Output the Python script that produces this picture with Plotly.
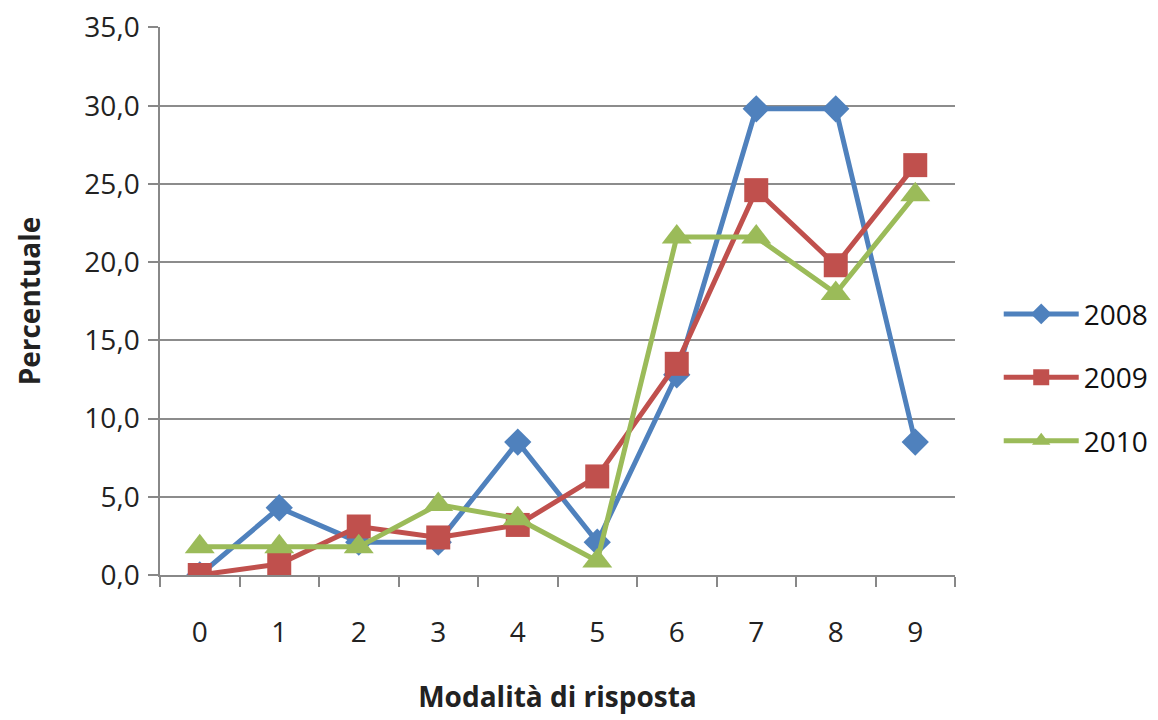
import plotly.graph_objects as go

categories = [0, 1, 2, 3, 4, 5, 6, 7, 8, 9]
tick_labels = ["0", "1", "2", "3", "4", "5", "6", "7", "8", "9"]
y_ticks = [0, 5, 10, 15, 20, 25, 30, 35]
s2008 = [0.0, 4.3, 2.1, 2.1, 8.5, 2.1, 12.8, 29.8, 29.8, 8.5]
s2009 = [0.0, 0.7, 3.1, 2.4, 3.2, 6.3, 13.5, 24.6, 19.8, 26.2]
s2010 = [1.8, 1.8, 1.8, 4.5, 3.6, 0.9, 21.6, 21.6, 18.0, 24.3]

series = [
    ("2008", s2008, "#4F81BD", "diamond", 21),
    ("2009", s2009, "#C0504D", "square", 24),
    ("2010", s2010, "#9BBB59", "triangle-up", 26),
]

fig = go.Figure()
for name, vals, color, sym, size in series:
    fig.add_trace(go.Scatter(
        x=categories, y=vals, name=name, mode="lines+markers",
        line=dict(color=color, width=5),
        marker=dict(symbol=sym, size=size, color=color),
        legendgroup=name,
    ))

font_family = "Open Sans, Noto Sans, sans-serif"
boundaries = [c - 0.5 for c in categories] + [categories[-1] + 0.5]

fig.update_layout(
    width=1158, height=720,
    margin=dict(l=152, r=211, t=19, b=153, autoexpand=False),
    plot_bgcolor="white", paper_bgcolor="white",
    separators=",.",
    font=dict(family=font_family, size=28, color="#222222"),
    showlegend=True,
    legend=dict(x=1.055, y=0.36, xanchor="left", yanchor="middle",
                font=dict(size=28, color="#111111"), tracegroupgap=24,
                itemwidth=75, bgcolor="rgba(0,0,0,0)"),
)
fig.update_xaxes(
    range=[-0.5, 9.5], tickmode="array", tickvals=categories, ticktext=tick_labels,
    ticks="", showgrid=False, showline=True, linecolor="#888888", linewidth=1.5,
    zeroline=False, ticklabelstandoff=32, automargin=False,
    minor=dict(tickmode="array", tickvals=boundaries, ticks="outside", ticklen=10,
               tickcolor="#888888", tickwidth=1.5, showgrid=False),
    title=dict(text="<b>Modalità di risposta</b>", font=dict(size=28), standoff=38),
)
fig.update_yaxes(
    range=[0, 35.03], tickmode="array", tickvals=y_ticks, tickformat=".1f",
    ticks="outside", ticklen=10, tickcolor="#888888", tickwidth=1.5,
    showgrid=True, gridcolor="#8c8c8c", gridwidth=1.5, ticklabelstandoff=3,
    ticklabeloverflow="allow",
    showline=True, linecolor="#888888", linewidth=1.5, zeroline=False, automargin=False,
    title=dict(text="<b>Percentuale</b>", font=dict(size=28), standoff=36),
)

fig.write_html("out.html")
